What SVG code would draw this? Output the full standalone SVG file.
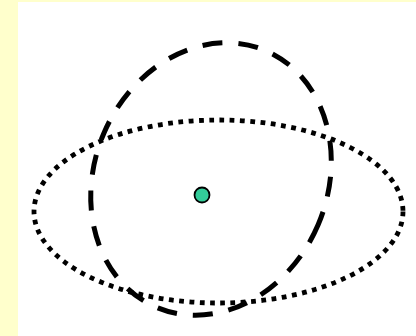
<svg xmlns="http://www.w3.org/2000/svg" width="416" height="336" viewBox="0 0 416 336">
  <style>
    .dotted { fill: none; stroke: #000; stroke-width: 4.8; stroke-dasharray: 4.8 5.5; }
    .dashed { fill: none; stroke: #000; stroke-width: 5; stroke-dasharray: 20 16; }
    .point { fill: #33CC99; stroke: #000; stroke-width: 1.8; }
  </style>
  <rect x="0" y="0" width="416" height="336" fill="#FFFFCC"/>
  <rect x="18" y="2" width="398" height="334" fill="#FFFFFF"/>
  <g id="dotted-ellipse">
    <ellipse class="dotted" cx="218.5" cy="211.5" rx="184.5" ry="91.5"/>
  </g>
  <g id="dashed-ellipse">
    <ellipse class="dashed" cx="211" cy="179" rx="116.5" ry="139.5" transform="rotate(23 211 179)"/>
  </g>
  <g id="center-point">
    <circle class="point" cx="202" cy="195" r="7.5"/>
  </g>
</svg>
